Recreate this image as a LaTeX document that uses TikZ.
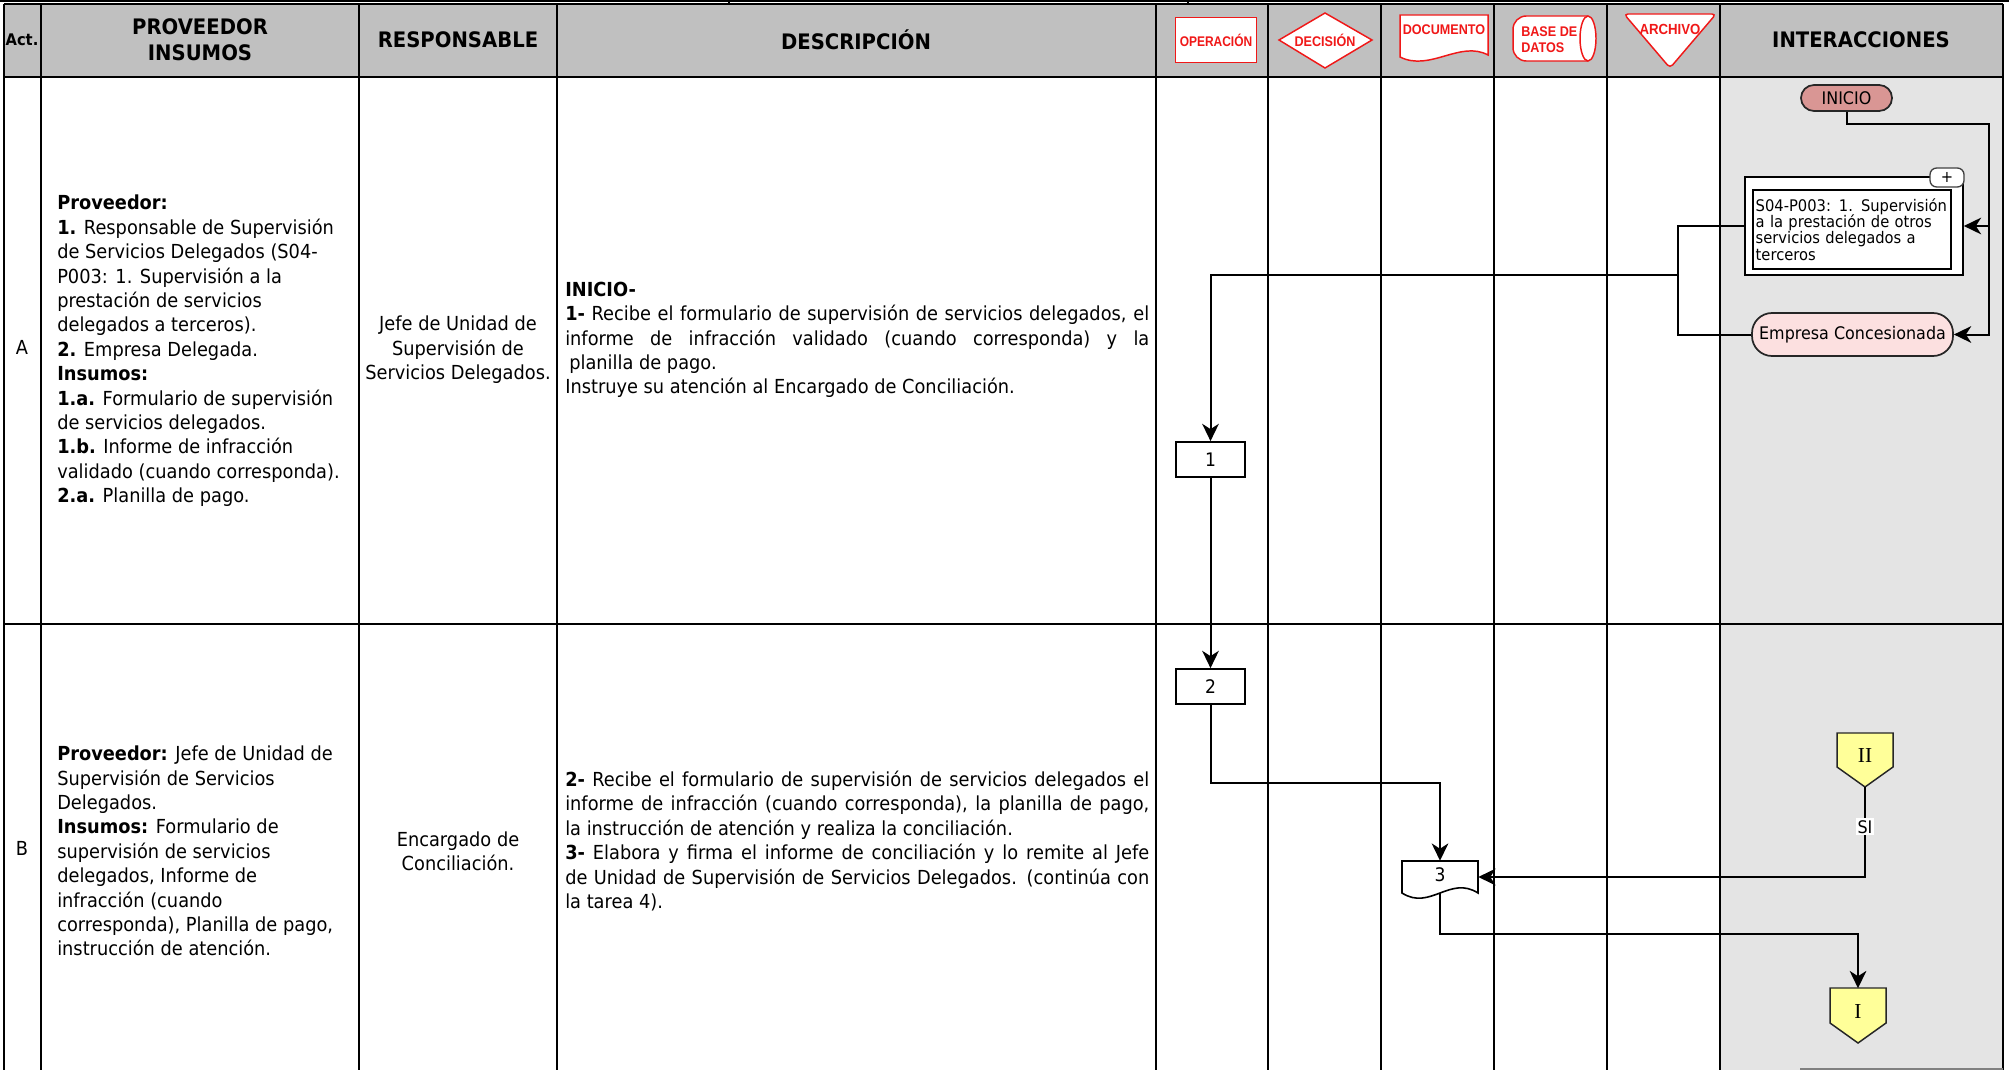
\documentclass[tikz,border=0pt]{standalone}
\usepackage{fontspec}
\usepackage{graphicx}
\setmainfont{DejaVu Sans}[FakeStretch=0.92]
\newfontfamily\symfont{Liberation Sans}[FakeStretch=0.9]
\newfontfamily\serfont{Liberation Serif}
\usetikzlibrary{arrows.meta}
\definecolor{hdrgray}{HTML}{C0C0C0}
\definecolor{lanegray}{HTML}{E4E4E4}
\definecolor{inicfill}{HTML}{D99694}
\definecolor{empfill}{HTML}{FCE0E0}
\definecolor{offyellow}{HTML}{FFFF99}
\definecolor{symred}{HTML}{F01818}
\newcommand{\justline}[1]{\makebox[438pt][s]{#1}}
\begin{document}
\begin{tikzpicture}[x=0.75pt,y=-0.75pt,
  grid/.style={line width=1.3pt},
  body/.style={font=\fontsize{14.5}{18.3}\selectfont, inner sep=0pt},
  hdr/.style={font=\bfseries\fontsize{16}{19.5}\selectfont, align=center, inner sep=0pt},
  symtxt/.style={font=\symfont\bfseries\fontsize{10.5}{12}\selectfont, text=symred, inner sep=0pt, align=left},
  symshape/.style={draw=symred, line width=1.1pt, fill=white},
  conn/.style={line width=1.5pt},
  arr/.style={conn, -{Stealth[length=13pt,width=12.5pt,inset=4pt]}},
  pbox/.style={draw, line width=1.3pt, fill=white, minimum width=51.75pt, minimum height=26.25pt, inner sep=0pt, font=\fontsize{14}{16}\selectfont},
  pill/.style={draw=black!85, line width=1.3pt, inner sep=0pt, font=\fontsize{13}{15}\selectfont},
  offpage/.style={draw=black!85, line width=1.1pt, fill=offyellow},
  offlbl/.style={inner sep=0pt, minimum width=42pt, minimum height=40.5pt, font=\serfont\fontsize{16}{18}\selectfont}
]
\useasboundingbox (0,0) rectangle (2009,1070);

% backgrounds
\fill[hdrgray] (4,4) rectangle (2003,77);
\fill[lanegray] (1720,77) rectangle (2003,1070);

% top thin line
\draw[line width=0.9pt] (0,1) -- (2009,1);
\draw[line width=0.9pt] (729,0) -- (729,4) (1188,0) -- (1188,4);

% grid
\draw[grid] (4,4) -- (2003,4);
\draw[grid] (4,77) -- (2003,77);
\draw[grid] (4,624) -- (2003,624);
\foreach \xx in {4,41,359,557,1156,1268,1381,1494,1607,1720,2003}
  \draw[grid] (\xx,4) -- (\xx,1070);
\draw[gray, line width=1pt] (1800,1069) -- (2003,1069);

% header texts
\node[hdr, font=\bfseries\fontsize{12}{14}\selectfont] (hact) at (22,40) {Act.};
\node[hdr] (hprov) at (200,40) {PROVEEDOR\\INSUMOS};
\node[hdr] (hresp) at (458,40) {RESPONSABLE};
\node[hdr] (hdesc) at (856,40) {DESCRIPCIÓN};
\node[hdr] (hint) at (1861,40) {INTERACCIONES};

% header symbols
\node[symshape, minimum width=60.75pt, minimum height=33.75pt, inner sep=0pt] (op) at (1216,40) {};
\node[symtxt] (optxt) at (1216,40) {\scalebox{0.95}[1]{OPERACIÓN}};
\draw[symshape] (1279,40) -- (1325,13) -- (1372,40) -- (1325,68) -- cycle;
\node[symtxt] (dec) at (1325,40) {DECISIÓN};
\draw[symshape] (1400,15) -- (1488,15) -- (1488,55) .. controls (1460,40) and (1430,72) .. (1400,57) -- cycle;
\node[symtxt] (doc) at (1444,30) {DOCUMENTO};
\draw[symshape, rounded corners=10pt] (1588,16) -- (1513,16) -- (1513,61) -- (1588,61);
\draw[symshape] (1588,38.5) ellipse [x radius=6pt, y radius=16.9pt];
\node[symtxt, anchor=west] (bd) at (1521,40) {BASE DE\\DATOS};
\draw[symshape, rounded corners=3pt] (1624,14) -- (1716,14) -- (1670,68) -- cycle;
\node[symtxt, font=\symfont\bfseries\fontsize{11}{12}\selectfont] (arch) at (1670,29) {ARCHIVO};

% row labels
\node[body] (actA) at (22,347) {A};
\node[body] (actB) at (22,848) {B};

% proveedor
\node[body, align=left, anchor=west] (provA) at (57,351) {%
\textbf{Proveedor:}\\
\textbf{1.} Responsable de Supervisión\\
de Servicios Delegados (S04-\\
P003: 1. Supervisión a la\\
prestación de servicios\\
delegados a terceros).\\
\textbf{2.} Empresa Delegada.\\
\textbf{Insumos:}\\
\textbf{1.a.} Formulario de supervisión\\
de servicios delegados.\\
\textbf{1.b.} Informe de infracción\\
validado (cuando corresponda).\\
\textbf{2.a.} Planilla de pago.};
\node[body, align=left, anchor=west] (provB) at (57,851) {%
\textbf{Proveedor:} Jefe de Unidad de\\
Supervisión de Servicios\\
Delegados.\\
\textbf{Insumos:} Formulario de\\
supervisión de servicios\\
delegados, Informe de\\
infracción (cuando\\
corresponda), Planilla de pago,\\
instrucción de atención.};

% responsable
\node[body, align=center] (respA) at (458,350) {Jefe de Unidad de\\Supervisión de\\Servicios Delegados.};
\node[body, align=center] (respB) at (458,851) {Encargado de\\Conciliación.};

% descripcion
\node[body, align=left, anchor=west] (descA) at (565,340) {%
\textbf{INICIO-}\\
\justline{\textbf{1-} Recibe el formulario de supervisión de servicios delegados, el}\\
\justline{informe de infracción validado (cuando corresponda) y la}\\
\hspace*{3pt}planilla de pago.\\
Instruye su atención al Encargado de Conciliación.};
\node[body, align=left, anchor=west] (descB) at (565,841) {%
\justline{\textbf{2-} Recibe el formulario de supervisión de servicios delegados el}\\
\justline{informe de infracción (cuando corresponda), la planilla de pago,}\\
la instrucción de atención y realiza la conciliación.\\
\justline{\textbf{3-} Elabora y firma el informe de conciliación y lo remite al Jefe}\\
\justline{de Unidad de Supervisión de Servicios Delegados. (continúa con}\\
la tarea 4).};

% interactions nodes
\node[pill, fill=inicfill, minimum width=68.25pt, minimum height=19.5pt, rounded corners=9.7pt] (inicio) at (1846.5,98) {INICIO};
\node[draw, line width=1.2pt, fill=white, minimum width=163.5pt, minimum height=73.5pt, inner sep=0pt] (sub) at (1854,226) {};
\node[draw=black!75, line width=1pt, fill=white, minimum width=25.5pt, minimum height=14.25pt, rounded corners=5pt, inner sep=0pt, font=\fontsize{12}{12}\selectfont] (plus) at (1947,177.5) {+};
\node[draw, line width=1.2pt, fill=white, text width=144.5pt, minimum height=59.25pt, inner sep=2pt, align=left, font=\fontsize{12}{12.3}\selectfont] (subin) at (1852,229.5) {S04-P003: 1. Supervisión\\a la prestación de otros\\servicios delegados a\\terceros};
\node[pill, fill=empfill, minimum width=150.75pt, minimum height=32.25pt, rounded corners=15pt] (emp) at (1852.5,334.5) {Empresa Concesionada};

\coordinate (r1) at (1989,124);
\coordinate (r2) at (1989,226);
\coordinate (j) at (1678,275);
\draw[arr] (inicio.south) |- (r1) |- (emp.east);
\draw[arr] (r2) -- (sub.east);
\draw[conn] (sub.west) -| (j) |- (emp.west);

% process boxes
\node[pbox] (b1) at (1210.5,459.5) {1};
\node[pbox] (b2) at (1210.5,686.5) {2};
\draw[arr] (j) -| (b1);
\draw[arr] (b1) -- (b2);

% document 3
\node[inner sep=0pt, minimum width=57pt, minimum height=24pt, font=\fontsize{14}{16}\selectfont] (doc3) at (1440,877) {};
\coordinate (k1) at (1440,783);
\coordinate (k2) at (1858,934);
\draw[arr] (b2) |- (k1) -- (doc3);

% off-page connectors
\draw[offpage] (1837,733) -- (1893,733) -- (1893,767) -- (1865,787) -- (1837,767) -- cycle;
\draw[offpage] (1830,988) -- (1886,988) -- (1886,1023) -- (1858,1043) -- (1830,1023) -- cycle;
\node[offlbl] (offII) at (1865,760) {\raisebox{6pt}{II}};
\node[offlbl] (offI) at (1858,1015.5) {\raisebox{6.4pt}{I}};

\draw[arr] (offII.south) |- node[pos=0.22, fill=white, inner sep=1.5pt, font=\fontsize{13}{15}\selectfont] (si) {SI} (doc3.east);
\draw[arr] (doc3.south) |- (k2) -- (offI);

\draw[line width=1.2pt, fill=white] (1402,861) -- (1478,861) -- (1478,893) .. controls (1450,875) and (1430,911) .. (1402,893) -- cycle;
\node[inner sep=0pt, font=\fontsize{14}{16}\selectfont] (doc3t) at (1440,875) {3};
\end{tikzpicture}
\end{document}
